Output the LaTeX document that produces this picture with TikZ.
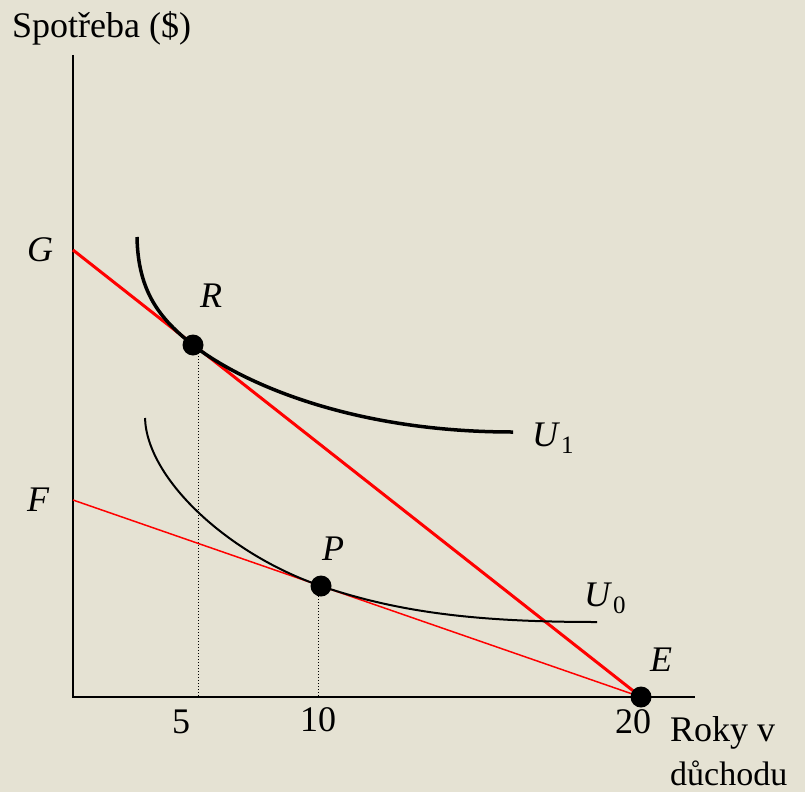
\documentclass[tikz,border=0pt]{standalone}
\usepackage{fontspec}
\setmainfont{Liberation Serif}
\definecolor{bg}{RGB}{229,226,211}
\definecolor{myred}{RGB}{255,0,0}
\tikzset{
  lbl/.style={font=\fontsize{36}{40}\selectfont, inner sep=0pt},
  ilbl/.style={lbl, font=\fontsize{36}{40}\selectfont\itshape},
  axis/.style={line width=2.5pt, black},
  budgetA/.style={line width=3pt, myred},
  budgetB/.style={line width=1.5pt, myred},
  indiffA/.style={line width=3.5pt, black},
  indiffB/.style={line width=2pt, black},
  guide/.style={line width=1pt, black, dotted},
  dot/.style={circle, fill=black, minimum size=21pt, inner sep=0pt}
}
\begin{document}
\begin{tikzpicture}[x=1pt,y=-1pt]
\fill[bg] (0,0) rectangle (805,792);
\useasboundingbox (0,0) rectangle (805,792);
% axes
\coordinate (ytop) at (73,55);
\coordinate (O) at (73,697);
\coordinate (xend) at (695,697);
\draw[axis] (ytop) -- (O) -- (xend);
% points
\coordinate (G) at (73,250);
\coordinate (F) at (73,500);
\coordinate (E) at (641,697);
\coordinate (Rp) at (193,345);
\coordinate (Pp) at (321,586);
\coordinate (R5) at (198,697);
\coordinate (R5t) at (198,350);
\coordinate (P10) at (318,697);
\coordinate (P10t) at (318,590);
% guides
\draw[guide] (R5t) -- (R5);
\draw[guide] (P10t) -- (P10);
% budget lines
\draw[budgetB] (F) -- (E);
\draw[budgetA] (G) -- (E);
% indifference curves
\coordinate (U1s) at (137,237);
\coordinate (U1e) at (513,432);
\draw[indiffA] (U1s) .. controls (138,292) and (160,319) .. (Rp)
  .. controls (240,382) and (350,432) .. (U1e);
\coordinate (U0s) at (145,418);
\coordinate (U0e) at (597,622);
\draw[indiffB] (U0s) .. controls (147,480) and (230,555) .. (Pp)
  .. controls (400,613) and (480,622) .. (U0e);
% dots
\node[dot] (R) at (Rp) {};
\node[dot] (P) at (Pp) {};
\node[dot] (Ed) at (E) {};
% labels
\node[lbl, anchor=west] (ylab) at (12,28) {Spotřeba (\$)};
\node[ilbl] (Gl) at (40,250) {G};
\node[ilbl] (Fl) at (38,500) {F};
\node[ilbl] (Rl) at (211,296) {R};
\node[ilbl] (Pl) at (333,549) {P};
\node[ilbl] (El) at (661,660) {E};
\node[lbl, anchor=west] (U1l) at (532,438) {\textit{U}\kern1pt\raisebox{-7pt}{\fontsize{25}{28}\selectfont\upshape 1}};
\node[lbl, anchor=west] (U0l) at (584,598) {\textit{U}\kern1pt\raisebox{-7pt}{\fontsize{25}{28}\selectfont\upshape 0}};
\node[lbl] (t5) at (181,722) {5};
\node[lbl] (t10) at (318,720) {10};
\node[lbl] (t20) at (633,722) {20};
\node[lbl, anchor=west] (xl1) at (670,733) {Roky v};
\node[lbl, anchor=west, font=\fontsize{34}{38}\selectfont] (xl2) at (670,773) {důchodu};
\end{tikzpicture}
\end{document}
